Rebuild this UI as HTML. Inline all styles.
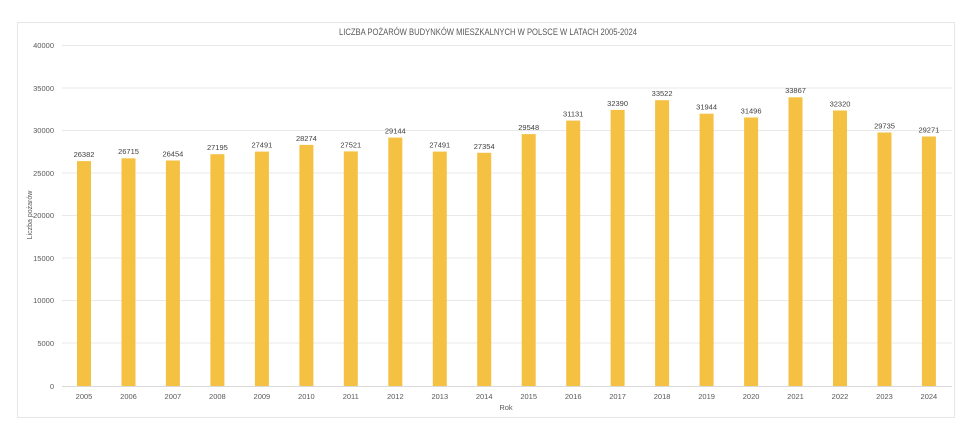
<!DOCTYPE html>
<html><head><meta charset="utf-8"><style>
html,body{margin:0;padding:0;background:#fff;}
svg{display:block;font-family:"Liberation Sans",sans-serif;}
</style></head><body>
<svg width="970" height="429" viewBox="0 0 970 429" xmlns="http://www.w3.org/2000/svg">
<rect x="17.5" y="22.5" width="937" height="395" fill="#fff" stroke="#e6e6e6"/>
<text x="488" y="35" font-size="9.5" fill="#595959" text-anchor="middle" textLength="298" lengthAdjust="spacingAndGlyphs">LICZBA POŻARÓW BUDYNKÓW MIESZKALNYCH W POLSCE W LATACH 2005-2024</text>
<g stroke="#e8e8e8" stroke-width="1">
<line x1="62" x2="952" y1="45.5" y2="45.5"/>
<line x1="62" x2="952" y1="88" y2="88"/>
<line x1="62" x2="952" y1="130.5" y2="130.5"/>
<line x1="62" x2="952" y1="173" y2="173"/>
<line x1="62" x2="952" y1="215.5" y2="215.5"/>
<line x1="62" x2="952" y1="258" y2="258"/>
<line x1="62" x2="952" y1="300.5" y2="300.5"/>
<line x1="62" x2="952" y1="343" y2="343"/>
</g>
<line x1="62" x2="952" y1="386.5" y2="386.5" stroke="#d9d9d9"/>
<g font-size="7.5" fill="#595959" text-anchor="end">
<text x="54" y="48">40000</text><text x="54" y="91">35000</text><text x="54" y="133">30000</text>
<text x="54" y="176">25000</text><text x="54" y="218">20000</text><text x="54" y="261">15000</text>
<text x="54" y="303">10000</text><text x="54" y="346">5000</text><text x="54" y="389">0</text>
</g>
<text transform="translate(32,215) rotate(-90)" font-size="7" fill="#595959" text-anchor="middle">Liczba pożarów</text>
<text x="506" y="410" font-size="7.5" fill="#595959" text-anchor="middle">Rok</text>
<g fill="#F4C142">
<rect x="77" y="161.1" width="14" height="224.9"/>
<rect x="121.5" y="158.3" width="14" height="227.7"/>
<rect x="165.9" y="160.5" width="14" height="225.5"/>
<rect x="210.4" y="154.2" width="14" height="231.8"/>
<rect x="254.9" y="151.6" width="14" height="234.4"/>
<rect x="299.4" y="144.9" width="14" height="241.1"/>
<rect x="343.8" y="151.4" width="14" height="234.6"/>
<rect x="388.3" y="137.6" width="14" height="248.4"/>
<rect x="432.8" y="151.6" width="14" height="234.4"/>
<rect x="477.2" y="152.8" width="14" height="233.2"/>
<rect x="521.7" y="134.1" width="14" height="251.9"/>
<rect x="566.2" y="120.6" width="14" height="265.4"/>
<rect x="610.6" y="109.9" width="14" height="276.1"/>
<rect x="655.1" y="100.2" width="14" height="285.8"/>
<rect x="699.6" y="113.7" width="14" height="272.3"/>
<rect x="744.1" y="117.5" width="14" height="268.5"/>
<rect x="788.5" y="97.3" width="14" height="288.7"/>
<rect x="833" y="110.5" width="14" height="275.5"/>
<rect x="877.5" y="132.5" width="14" height="253.5"/>
<rect x="921.9" y="136.5" width="14" height="249.5"/>
</g>
<g font-size="7.5" fill="#404040" text-anchor="middle">
<text x="84" y="157">26382</text><text x="128.5" y="154">26715</text><text x="172.9" y="156.5">26454</text>
<text x="217.4" y="150">27195</text><text x="261.9" y="147.5">27491</text><text x="306.4" y="141">28274</text>
<text x="350.8" y="147.5">27521</text><text x="395.3" y="133.5">29144</text><text x="439.8" y="147.5">27491</text>
<text x="484.2" y="149">27354</text><text x="528.7" y="130">29548</text><text x="573.2" y="116.5">31131</text>
<text x="617.6" y="106">32390</text><text x="662.1" y="96">33522</text><text x="706.6" y="109.5">31944</text>
<text x="751.1" y="113.5">31496</text><text x="795.5" y="93">33867</text><text x="840" y="106.5">32320</text>
<text x="884.5" y="128.5">29735</text><text x="928.9" y="132.5">29271</text>
</g>
<g font-size="7.5" fill="#595959" text-anchor="middle">
<text x="84" y="399">2005</text><text x="128.5" y="399">2006</text><text x="172.9" y="399">2007</text>
<text x="217.4" y="399">2008</text><text x="261.9" y="399">2009</text><text x="306.4" y="399">2010</text>
<text x="350.8" y="399">2011</text><text x="395.3" y="399">2012</text><text x="439.8" y="399">2013</text>
<text x="484.2" y="399">2014</text><text x="528.7" y="399">2015</text><text x="573.2" y="399">2016</text>
<text x="617.6" y="399">2017</text><text x="662.1" y="399">2018</text><text x="706.6" y="399">2019</text>
<text x="751.1" y="399">2020</text><text x="795.5" y="399">2021</text><text x="840" y="399">2022</text>
<text x="884.5" y="399">2023</text><text x="928.9" y="399">2024</text>
</g>
</svg>
</body></html>
